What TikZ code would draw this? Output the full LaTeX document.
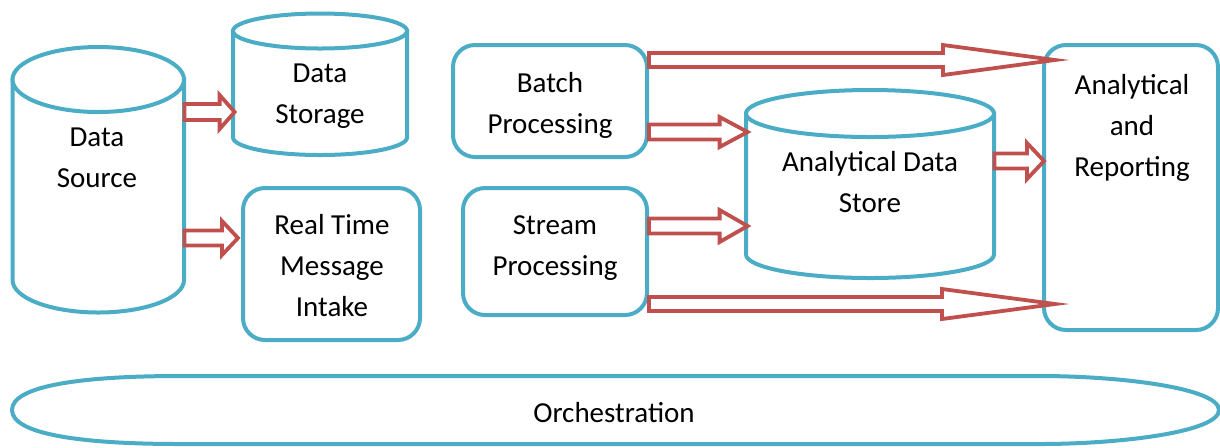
\documentclass[tikz,border=0pt]{standalone}
\usepackage{fontspec}
\setmainfont{Carlito}
\usetikzlibrary{calc}

\definecolor{boxline}{HTML}{4BACC6}
\definecolor{flowline}{HTML}{C0504D}

\tikzset{
  shapeline/.style={draw=boxline, line width=2pt, fill=white},
  procbox/.style={shapeline, rounded corners=11pt, inner sep=0pt},
  area/.style={inner sep=0pt, draw=none},
  txt/.style={align=center, inner sep=0pt, font=\fontsize{14.5}{20.5}\selectfont},
  barrow/.style={draw=flowline, line width=1.9pt, fill=white, line join=miter},
}

% cylinder: #1 left x, #2 right x, #3 top-ellipse centre y, #4 bottom-ellipse centre y, #5 end radius
\newcommand\drumshape[5]{%
  \filldraw[shapeline] (#1,#3) -- (#1,#4)
    arc[start angle=180, end angle=0, x radius={(#2-#1)/2}, y radius=#5]
    -- (#2,#3) -- cycle;
  \draw[shapeline] ({(#1+#2)/2},#3) ellipse[x radius={(#2-#1)/2}, y radius=#5];
}

% block arrow: #1 from anchor, #2 to anchor, #3 y, #4 tip shift,
% #5 shaft half width, #6 head half width, #7 head length
\newcommand\blockarrow[7]{%
  \draw[barrow] let \p1=(#1), \p2=(#2), \p3=(0,#3),
      \n1={\x2+(#4)*0.5pt}, \n2={\n1-(#7)*0.5pt} in
    (\x1,{\y3+(#5)*0.5pt}) -- (\n2,{\y3+(#5)*0.5pt})
    -- (\n2,{\y3+(#6)*0.5pt}) -- (\n1,\y3)
    -- (\n2,{\y3-(#6)*0.5pt}) -- (\n2,{\y3-(#5)*0.5pt})
    -- (\x1,{\y3-(#5)*0.5pt}) -- cycle;
}

\begin{document}
\begin{tikzpicture}[x=0.5pt, y=-0.5pt]
\useasboundingbox (0,0) rectangle (1220,447);

% storage drums
\drumshape{12.5}{184}{79.5}{280}{32.5}
\node[area, minimum width=85.75pt, minimum height=132pt] (ds) at (98.25,180) {};
\drumshape{233}{407}{31}{137.5}{17.5}
\node[area, minimum width=87pt, minimum height=70.5pt] (dst) at (320,84.25) {};
\drumshape{746}{994}{113.5}{254.5}{23.5}
\node[area, minimum width=124pt, minimum height=94pt] (ads) at (870,184) {};

% processing boxes
\node[procbox, minimum width=88.5pt, minimum height=76pt] (rt) at (331.5,264) {};
\node[procbox, minimum width=97pt, minimum height=56pt] (bp) at (550,101) {};
\node[procbox, minimum width=92pt, minimum height=63.5pt] (sp) at (555,251.5) {};
\node[procbox, minimum width=87pt, minimum height=142.5pt] (ar) at (1131,187.5) {};

% orchestration layer: a long flattened oval
\filldraw[shapeline] (12,410)
  .. controls (12,386) and (80,376) .. (180,376) -- (1040,376)
  .. controls (1120,376) and (1219,388) .. (1219,410)
  .. controls (1219,432) and (1120,444) .. (1040,444) -- (180,444)
  .. controls (80,444) and (12,434) .. cycle;
\node[area, minimum width=603.5pt, minimum height=34pt] (orch) at (615.5,410) {};

% labels
\node[txt] (dsl) at (97,158) {Data\\Source};
\node[txt] (dstl) at (320,96) {Data\\Storage};
\node[txt] (rtl) at (332,266) {Real Time\\Message\\Intake};
\node[txt] (bpl) at (550,105) {Batch\\Processing};
\node[txt] (spl) at (555,248) {Stream\\Processing};
\node[txt] (adsl) at (870,182) {Analytical Data\\Store};
\node[txt] (arl) at (1132,128) {Analytical\\and\\Reporting};
\node[txt] (orchl) at (614,413) {Orchestration};

% data flows
\blockarrow{ds.east}{dst.west}{112}{2}{8}{17}{15}
\blockarrow{ds.east}{rt.west}{238}{-3}{7.5}{17}{16}
\blockarrow{bp.east}{ar.west}{60}{13}{7}{15}{112}
\blockarrow{bp.east}{ads.west}{132}{2}{7.5}{15}{28}
\blockarrow{ads.east}{ar.west}{161}{2}{7.5}{18}{17}
\blockarrow{sp.east}{ads.west}{226}{2}{7.5}{16}{28}
\blockarrow{sp.east}{ar.west}{304}{13}{7}{15}{113}
\end{tikzpicture}
\end{document}
